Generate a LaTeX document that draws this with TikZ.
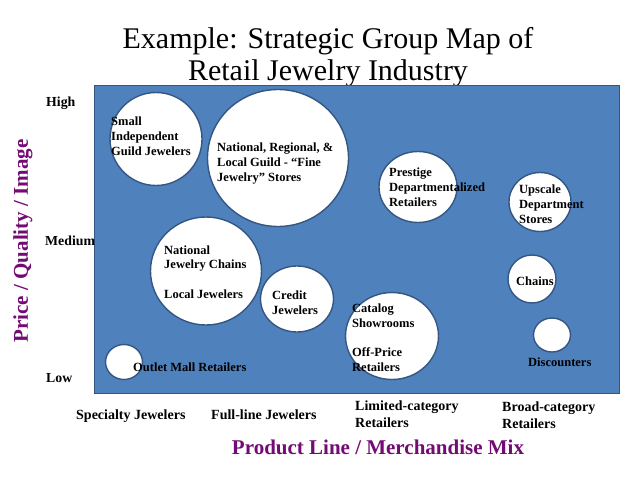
\documentclass[tikz,border=0pt]{standalone}
\usepackage{fontspec}
\setmainfont{Liberation Serif}
\usetikzlibrary{shapes.geometric}
\definecolor{panelblue}{RGB}{79,129,189}
\definecolor{edgeblue}{RGB}{52,86,130}
\definecolor{axispurple}{RGB}{116,10,116}
\tikzset{
  bubble/.style={ellipse, draw=edgeblue, line width=1.4pt, fill=white, inner sep=0pt},
  lbl/.style={anchor=base west, inner sep=0pt, align=left, font=\bfseries\fontsize{12.5}{14.6}\selectfont},
  axlbl/.style={anchor=base west, inner sep=0pt, align=left, font=\bfseries\fontsize{14}{16.4}\selectfont},
  ticklbl/.style={anchor=base west, inner sep=0pt, font=\bfseries\fontsize{13.8}{15}\selectfont},
  axtitle/.style={inner sep=0pt, text=axispurple, font=\bfseries\fontsize{21}{25}\selectfont},
}
\begin{document}
\begin{tikzpicture}[x=1pt,y=-1pt]
\useasboundingbox (0,0) rectangle (638,479);
% title
\node[align=center, inner sep=0pt, font=\fontsize{30}{32}\selectfont] (title) at (328,57)
  {Example: Strategic Group Map of\\Retail Jewelry Industry};
% panel
\node[draw=edgeblue, line width=1.2pt, fill=panelblue, minimum width=525pt, minimum height=308pt, inner sep=0pt, anchor=north west] (panel) at (94,85) {};
% bubbles
\node[bubble, minimum width=92pt, minimum height=93pt] (b1) at (156,139) {};
\node[bubble, minimum width=141pt, minimum height=137pt] (b2) at (278,158) {};
\node[bubble, minimum width=78pt, minimum height=71pt] (b3) at (418,187) {};
\node[bubble, minimum width=62pt, minimum height=59pt] (b4) at (540,202) {};
\node[bubble, minimum width=111pt, minimum height=108pt] (b5) at (206,271) {};
\node[bubble, minimum width=73pt, minimum height=66pt] (b6) at (297,299) {};
\node[bubble, minimum width=37pt, minimum height=35pt] (b7) at (124,362) {};
\node[bubble, minimum width=93pt, minimum height=87pt] (b8) at (392,336) {};
\node[bubble, minimum width=48pt, minimum height=48pt] (b9) at (532,279) {};
\node[bubble, minimum width=37pt, minimum height=34pt] (b10) at (552,335) {};
% bubble labels (anchor = baseline of last line)
\node[lbl] (t1) at (111,155) {Small\\Independent\\Guild Jewelers};
\node[lbl] (t2) at (217,181) {National, Regional, \&\\Local Guild - “Fine\\Jewelry” Stores};
\node[lbl] (t3) at (389,206) {Prestige\\Departmentalized\\Retailers};
\node[lbl] (t4) at (519,223) {Upscale\\Department\\Stores};
\node[lbl] (t5) at (164,298) {National\\Jewelry Chains\\[14.6pt]Local Jewelers};
\node[lbl] (t6) at (272,314) {Credit\\Jewelers};
\node[lbl] (t7) at (133,371) {Outlet Mall Retailers};
\node[lbl] (t8) at (352,371) {Catalog\\Showrooms\\[14.6pt]Off-Price\\Retailers};
\node[lbl] (t9) at (516,285) {Chains};
\node[lbl] (t10) at (528,366) {Discounters};
% axis tick labels
\node[ticklbl] (high) at (46,106) {High};
\node[ticklbl] (medium) at (45,245) {Medium};
\node[ticklbl] (low) at (46,382) {Low};
\node[axlbl] (x1) at (76,419) {Specialty Jewelers};
\node[axlbl] (x2) at (211,419) {Full-line Jewelers};
\node[axlbl] (x3) at (355,427) {Limited-category\\Retailers};
\node[axlbl] (x4) at (502,428) {Broad-category\\Retailers};
% axis titles
\node[axtitle, anchor=base] (xtitle) at (378,454) {Product Line / Merchandise Mix};
\node[axtitle, rotate=90] (ytitle) at (23,241) {Price / Quality / Image};
\end{tikzpicture}
\end{document}
